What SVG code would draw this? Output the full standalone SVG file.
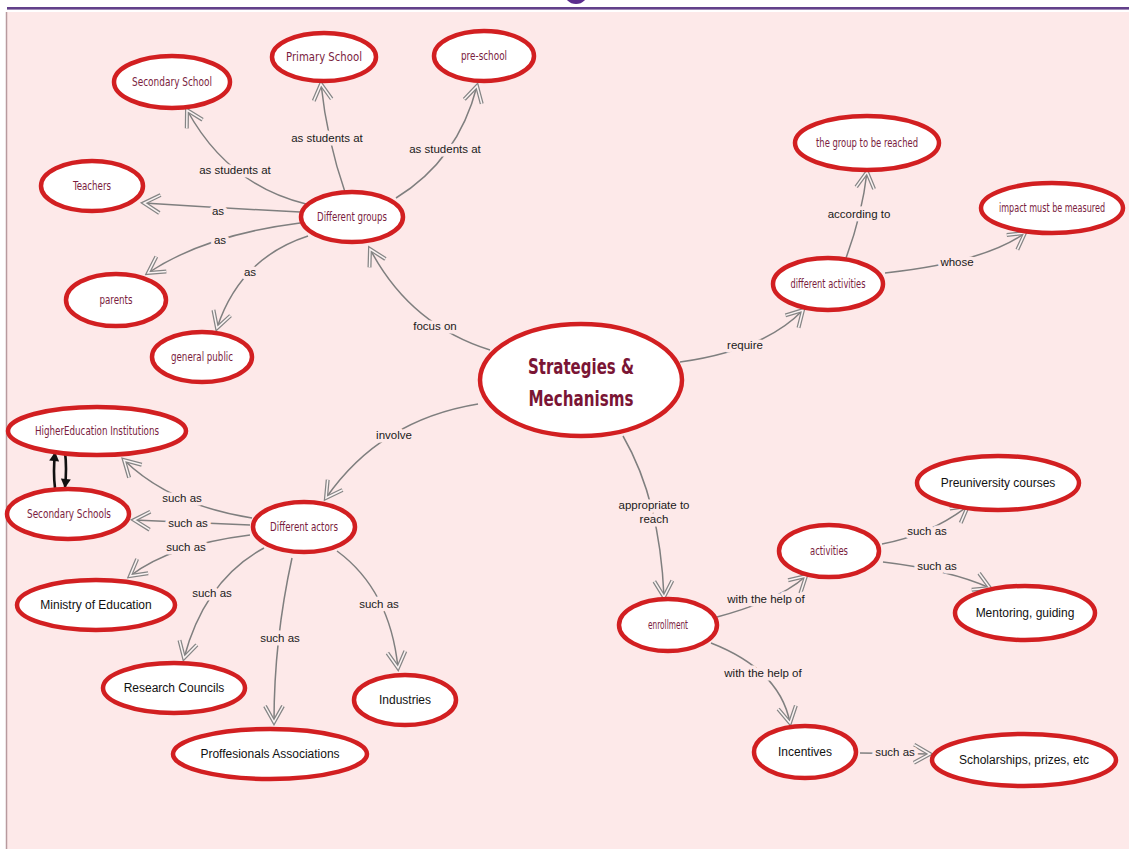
<svg xmlns="http://www.w3.org/2000/svg" width="1129" height="849" viewBox="0 0 1129 849">
<style>
.node{fill:#fff;stroke:#d21f21;stroke-width:4.5}
.hw{font-family:"DejaVu Sans Condensed","Liberation Sans Narrow","Liberation Sans",sans-serif;fill:#7a1d3e;font-size:12px;text-anchor:middle}
.ar{font-family:"Liberation Sans",Arial,sans-serif;fill:#111;font-size:12px;text-anchor:middle}
.ttl{font-family:"DejaVu Sans Condensed","Liberation Sans Narrow","Liberation Sans",sans-serif;fill:#7a1535;font-size:22px;font-weight:bold;text-anchor:middle}
.c{fill:none;stroke:#7f7f7f;stroke-width:1.5;marker-end:url(#oa)}
.lbl{font-family:"Liberation Sans",Arial,sans-serif;fill:#1a1a1a;font-size:11.5px;text-anchor:middle;stroke:#fde9e9;stroke-width:7;paint-order:stroke;stroke-linejoin:round}
.bk{fill:none;stroke:#111;stroke-width:2.6;marker-end:url(#ba)}
</style>
<defs>
<marker id="oa" viewBox="-20 -12 24 24" refX="0" refY="0" markerWidth="24" markerHeight="24" markerUnits="userSpaceOnUse" orient="auto">
<path d="M-16,-9 L0,0 L-16,9" fill="none" stroke="#858585" stroke-width="4" stroke-linejoin="miter"/>
<path d="M-16,-9 L0,0 L-16,9" fill="none" stroke="#fbf3f3" stroke-width="1.5"/>
</marker>
<marker id="ba" viewBox="-10 -6 12 12" refX="0" refY="0" markerWidth="12" markerHeight="12" markerUnits="userSpaceOnUse" orient="auto">
<path d="M-8,-5 L1,0 L-8,5 Z" fill="#111"/>
</marker>
</defs>
<rect x="0" y="0" width="1129" height="849" fill="#fff"/>
<rect x="7" y="12" width="1122" height="837" fill="#fde9e9"/>
<line x1="6.5" y1="12" x2="6.5" y2="849" stroke="#b89a9e" stroke-width="1.5"/>
<rect x="7" y="7" width="1122" height="2.6" fill="#62408a"/>
<circle cx="576" cy="-8" r="12" fill="#5b2d8e"/>

<g id="connectors">
<path class="c" d="M306,204 Q228,185 187,110"/>
<path class="c" d="M345,192 Q327,140 321,84"/>
<path class="c" d="M396,198 Q458,160 477,86"/>
<path class="c" d="M300,212 Q220,208 144,203"/>
<path class="c" d="M300,223 Q205,235 148,273"/>
<path class="c" d="M308,236 Q240,258 217,328"/>
<path class="c" d="M490,350 Q410,325 370,249"/>
<path class="c" d="M680,362 Q765,350 803,310"/>
<path class="c" d="M846,258 Q862,215 867,172"/>
<path class="c" d="M885,273 Q985,262 1025,233"/>
<path class="c" d="M478,404 Q380,420 326,498"/>
<path class="c" d="M252,518 Q170,505 124,460"/>
<path class="c" d="M250,525 L134,520"/>
<path class="c" d="M250,535 Q170,545 130,576"/>
<path class="c" d="M264,548 Q205,580 184,658"/>
<path class="c" d="M292,558 Q274,640 274,722"/>
<path class="c" d="M337,551 Q390,590 398,668"/>
<path class="c" d="M623,436 Q660,500 664,597"/>
<path class="c" d="M717,617 Q780,600 806,576"/>
<path class="c" d="M711,643 Q780,670 790,723"/>
<path class="c" d="M882,544 Q930,535 968,506"/>
<path class="c" d="M883,562 Q950,570 990,588"/>
<path class="c" d="M860,753 L930,754"/>
<path class="bk" d="M55,488 Q53,472 55,453"/>
<path class="bk" d="M65,452 Q67,468 65,487"/>
<text class="lbl" x="235" y="174">as students at</text>
<text class="lbl" x="327" y="142">as students at</text>
<text class="lbl" x="445" y="153">as students at</text>
<text class="lbl" x="218" y="215">as</text>
<text class="lbl" x="220" y="244">as</text>
<text class="lbl" x="250" y="276">as</text>
<text class="lbl" x="435" y="330">focus on</text>
<text class="lbl" x="745" y="349">require</text>
<text class="lbl" x="859" y="218">according to</text>
<text class="lbl" x="957" y="266">whose</text>
<text class="lbl" x="394" y="439">involve</text>
<text class="lbl" x="182" y="502">such as</text>
<text class="lbl" x="188" y="527">such as</text>
<text class="lbl" x="186" y="551">such as</text>
<text class="lbl" x="212" y="597">such as</text>
<text class="lbl" x="280" y="642">such as</text>
<text class="lbl" x="379" y="608">such as</text>
<text class="lbl" x="654" y="509">appropriate to</text>
<text class="lbl" x="654" y="523">reach</text>
<text class="lbl" x="766" y="603">with the help of</text>
<text class="lbl" x="763" y="677">with the help of</text>
<text class="lbl" x="927" y="535">such as</text>
<text class="lbl" x="937" y="570">such as</text>
<text class="lbl" x="895" y="756">such as</text>
</g>

<g id="n-secondary-school"><ellipse class="node" cx="172" cy="82" rx="58" ry="26"/><text class="hw" x="172" y="86" textLength="80" lengthAdjust="spacingAndGlyphs">Secondary School</text></g>
<g id="n-primary-school"><ellipse class="node" cx="324" cy="57" rx="52" ry="24"/><text class="hw" x="324" y="61" textLength="76" lengthAdjust="spacingAndGlyphs">Primary School</text></g>
<g id="n-pre-school"><ellipse class="node" cx="484" cy="56" rx="50" ry="25"/><text class="hw" x="484" y="60" textLength="46" lengthAdjust="spacingAndGlyphs">pre-school</text></g>
<g id="n-teachers"><ellipse class="node" cx="92" cy="186" rx="51" ry="25"/><text class="hw" x="92" y="190" textLength="38" lengthAdjust="spacingAndGlyphs">Teachers</text></g>
<g id="n-different-groups"><ellipse class="node" cx="352" cy="217" rx="51" ry="25"/><text class="hw" x="352" y="221" textLength="70" lengthAdjust="spacingAndGlyphs">Different groups</text></g>
<g id="n-parents"><ellipse class="node" cx="116" cy="300" rx="50" ry="26"/><text class="hw" x="116" y="304" textLength="33" lengthAdjust="spacingAndGlyphs">parents</text></g>
<g id="n-general-public"><ellipse class="node" cx="202" cy="357" rx="50" ry="25"/><text class="hw" x="202" y="361" textLength="62" lengthAdjust="spacingAndGlyphs">general public</text></g>
<g id="n-strategies"><ellipse class="node" cx="581" cy="380" rx="101" ry="56"/><text class="ttl" x="581" y="374" textLength="106" lengthAdjust="spacingAndGlyphs">Strategies &amp;</text><text class="ttl" x="581" y="406" textLength="105" lengthAdjust="spacingAndGlyphs">Mechanisms</text></g>
<g id="n-group-reached"><ellipse class="node" cx="867" cy="143" rx="72" ry="27"/><text class="hw" x="867" y="147" textLength="102" lengthAdjust="spacingAndGlyphs">the group to be reached</text></g>
<g id="n-impact"><ellipse class="node" cx="1052" cy="208" rx="71" ry="25"/><text class="hw" x="1052" y="212" font-size="11" textLength="106" lengthAdjust="spacingAndGlyphs">impact must be measured</text></g>
<g id="n-different-activities"><ellipse class="node" cx="828" cy="284" rx="55" ry="26"/><text class="hw" x="828" y="288" textLength="75" lengthAdjust="spacingAndGlyphs">different activities</text></g>
<g id="n-hei"><ellipse class="node" cx="97" cy="431" rx="89" ry="24"/><text class="hw" x="97" y="435" textLength="124" lengthAdjust="spacingAndGlyphs">HigherEducation Institutions</text></g>
<g id="n-secondary-schools"><ellipse class="node" cx="68" cy="514" rx="61" ry="25"/><text class="hw" x="69" y="518" textLength="84" lengthAdjust="spacingAndGlyphs">Secondary Schools</text></g>
<g id="n-different-actors"><ellipse class="node" cx="304" cy="527" rx="51" ry="25"/><text class="hw" x="304" y="531" textLength="68" lengthAdjust="spacingAndGlyphs">Different actors</text></g>
<g id="n-ministry"><ellipse class="node" cx="96" cy="605" rx="79" ry="25"/><text class="ar" x="96" y="609">Ministry of Education</text></g>
<g id="n-research"><ellipse class="node" cx="174" cy="688" rx="71" ry="25"/><text class="ar" x="174" y="692">Research Councils</text></g>
<g id="n-professionals"><ellipse class="node" cx="270" cy="754" rx="97" ry="25"/><text class="ar" x="270" y="758">Proffesionals Associations</text></g>
<g id="n-industries"><ellipse class="node" cx="405" cy="700" rx="51" ry="25"/><text class="ar" x="405" y="704">Industries</text></g>
<g id="n-enrollment"><ellipse class="node" cx="668" cy="625" rx="49" ry="26"/><text class="hw" x="668" y="629" textLength="40" lengthAdjust="spacingAndGlyphs">enrollment</text></g>
<g id="n-activities"><ellipse class="node" cx="829" cy="551" rx="50" ry="26"/><text class="hw" x="829" y="555" textLength="38" lengthAdjust="spacingAndGlyphs">activities</text></g>
<g id="n-preuniversity"><ellipse class="node" cx="998" cy="483" rx="81" ry="27"/><text class="ar" x="998" y="487">Preuniversity  courses</text></g>
<g id="n-mentoring"><ellipse class="node" cx="1025" cy="613" rx="70" ry="27"/><text class="ar" x="1025" y="617">Mentoring, guiding</text></g>
<g id="n-incentives"><ellipse class="node" cx="805" cy="752" rx="51" ry="26"/><text class="ar" x="805" y="756">Incentives</text></g>
<g id="n-scholarships"><ellipse class="node" cx="1024" cy="760" rx="92" ry="26"/><text class="ar" x="1024" y="764">Scholarships, prizes, etc</text></g>
</svg>
